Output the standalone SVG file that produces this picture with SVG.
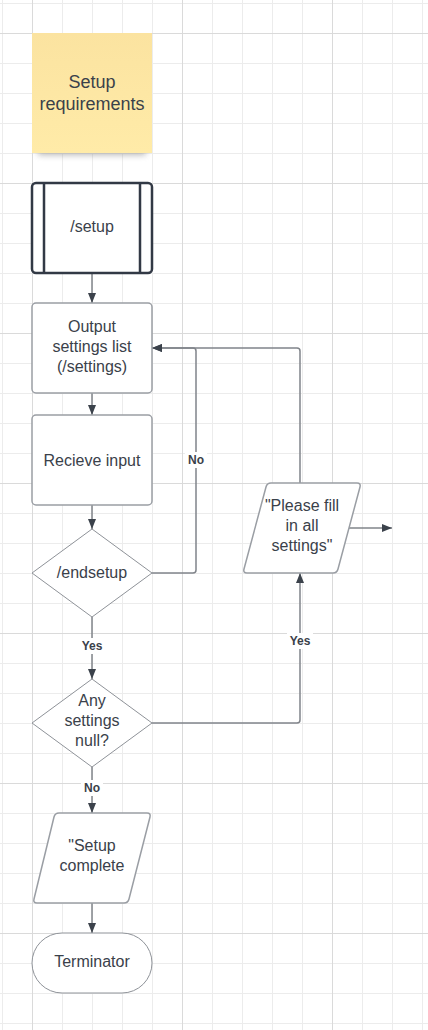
<svg xmlns="http://www.w3.org/2000/svg" width="428" height="1030" viewBox="0 0 428 1030">
<style>
.t{font-family:"Liberation Sans",Arial,sans-serif;font-size:16px;fill:#3a414a;text-anchor:middle}
.s{font-size:18px}
.l{font-family:"Liberation Sans",Arial,sans-serif;font-size:12px;font-weight:bold;fill:#3a414a;text-anchor:middle}
.n{fill:#fff;stroke:#9a9ea4;stroke-width:1.5}
.d{fill:#fff;stroke:#8e9298;stroke-width:1}
.c{fill:none;stroke:#80848a;stroke-width:1.5}
.lb{fill:#fff}
</style>
<defs>
<pattern id="gMinor" patternUnits="userSpaceOnUse" x="2" y="3" width="30" height="30">
<path d="M0.5 0V30M0 0.5H30" stroke="#ececec" stroke-width="1" fill="none"/>
</pattern>
<pattern id="gMajor" patternUnits="userSpaceOnUse" x="32" y="33" width="150" height="150">
<path d="M0.5 0V150M0 0.5H150" stroke="#dadada" stroke-width="1" fill="none"/>
</pattern>
<linearGradient id="sticky" x1="0" y1="0" x2="0" y2="1">
<stop offset="0" stop-color="#fbe3a0"/>
<stop offset="1" stop-color="#ffeba8"/>
</linearGradient>
<filter id="blur" x="-20%" y="-100%" width="140%" height="300%">
<feGaussianBlur stdDeviation="3"/>
</filter>
<marker id="arr" viewBox="0 0 10 8" refX="10" refY="4" markerWidth="10" markerHeight="8" markerUnits="userSpaceOnUse" orient="auto">
<path d="M0 0L10 4L0 8Z" fill="#3b424b"/>
</marker>
</defs>
<rect width="428" height="1030" fill="#fff"/>
<rect width="428" height="1030" fill="url(#gMinor)"/>
<rect width="428" height="1030" fill="url(#gMajor)"/>

<g id="sticky-note">
<rect x="38" y="146" width="108" height="9" fill="#8a8a8a" opacity="0.6" filter="url(#blur)"/>
<rect x="32" y="33" width="120" height="120" fill="url(#sticky)"/>
<text class="t s" x="92" y="88">Setup</text>
<text class="t s" x="92" y="110">requirements</text>
</g>

<g id="connectors">
<path class="c" d="M92 273V303" marker-end="url(#arr)"/>
<path class="c" d="M92 393V415" marker-end="url(#arr)"/>
<path class="c" d="M92 505V529" marker-end="url(#arr)"/>
<path class="c" d="M92 617V679" marker-end="url(#arr)"/>
<path class="c" d="M92 767V813" marker-end="url(#arr)"/>
<path class="c" d="M92 903V933" marker-end="url(#arr)"/>
<path class="c" d="M152 573H193Q196 573 196 570V351Q196 348 193 348H152" marker-end="url(#arr)"/>
<path class="c" d="M300 483V351Q300 348 297 348H152" marker-end="url(#arr)"/>
<path class="c" d="M152 723H297Q300 723 300 720V573" marker-end="url(#arr)"/>
<path class="c" d="M349 528H392" marker-end="url(#arr)"/>
<rect class="lb" x="185" y="452" width="22" height="16"/>
<text class="l" x="196" y="464">No</text>
<rect class="lb" x="79" y="638" width="26" height="16"/>
<text class="l" x="92" y="650">Yes</text>
<rect class="lb" x="287" y="633" width="26" height="16"/>
<text class="l" x="300" y="645">Yes</text>
<rect class="lb" x="81" y="780" width="22" height="16"/>
<text class="l" x="92" y="792">No</text>
</g>

<g id="setup">
<rect x="32" y="183" width="120" height="90" rx="4" fill="#fff" stroke="#323945" stroke-width="2.5"/>
<path d="M44 183V273M140 183V273" stroke="#323945" stroke-width="2.5"/>
<text class="t" x="92" y="232">/setup</text>
</g>

<g id="output-settings">
<rect class="n" x="32" y="303" width="120" height="90" rx="4"/>
<text class="t" x="92" y="332">Output</text>
<text class="t" x="92" y="352">settings list</text>
<text class="t" x="92" y="372">(/settings)</text>
</g>

<g id="receive-input">
<rect class="n" x="32" y="415" width="120" height="90" rx="4"/>
<text class="t" x="92" y="466">Recieve input</text>
</g>

<g id="endsetup">
<path class="d" d="M92 529L152 573L92 617L32 573Z"/>
<text class="t" x="92" y="578">/endsetup</text>
</g>

<g id="any-null">
<path class="d" d="M92 679L152 723L92 767L32 723Z"/>
<text class="t" x="92" y="706">Any</text>
<text class="t" x="92" y="726">settings</text>
<text class="t" x="92" y="746">null?</text>
</g>

<g id="please-fill">
<path class="n" d="M271 483H357Q361 483 360 487L338 569Q337 573 333 573H247Q243 573 244 569L266 487Q267 483 271 483Z"/>
<text class="t" x="302" y="511">"Please fill</text>
<text class="t" x="302" y="531">in all</text>
<text class="t" x="302" y="551">settings"</text>
</g>

<g id="setup-complete">
<path class="n" d="M59 813H147Q151 813 150 817L129 899Q128 903 124 903H37Q33 903 34 899L54 817Q55 813 59 813Z"/>
<text class="t" x="92" y="851">"Setup</text>
<text class="t" x="92" y="871">complete</text>
</g>

<g id="terminator">
<rect class="d" x="32" y="933" width="120" height="60" rx="30"/>
<text class="t" x="92" y="967">Terminator</text>
</g>
</svg>
